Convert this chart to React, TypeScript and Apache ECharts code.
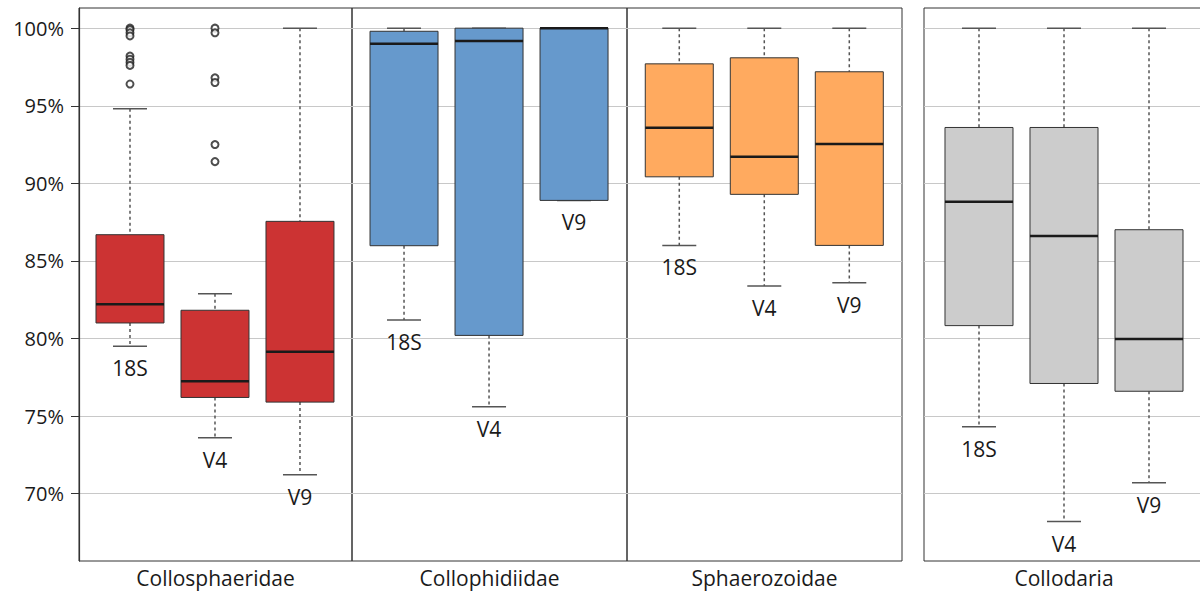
import React, { useEffect, useRef } from "react";
import * as echarts from "echarts";

// ---------- data ----------
const categories = ["Collosphaeridae", "Collophidiidae", "Sphaerozoidae", "Collodaria"];
const markers = ["18S", "V4", "V9"];
const yTicks = [70, 75, 80, 85, 90, 95, 100];

// each entry: [min, Q1, median, Q3, max] for 18S, V4, V9
const collosphaeridae = [
  [79.5, 81.0, 82.2, 86.69, 94.8],
  [73.6, 76.2, 77.24, 81.82, 82.89],
  [71.22, 75.9, 79.14, 87.55, 100],
];
const collophidiidae = [
  [81.2, 85.98, 99.0, 99.8, 100],
  [75.6, 80.2, 99.18, 100, 100],
  [88.9, 88.9, 100, 100, 100],
];
const sphaerozoidae = [
  [86.0, 90.42, 93.58, 97.7, 100],
  [83.39, 89.29, 91.71, 98.09, 100],
  [83.6, 86.0, 92.53, 97.19, 100],
];
const collodaria = [
  [74.31, 80.83, 88.82, 93.6, 100],
  [68.2, 77.1, 86.6, 93.6, 100],
  [70.7, 76.6, 79.97, 87.01, 100],
];

// outliers (Collosphaeridae only)
const outliers18S = [100, 99.9, 99.7, 99.5, 98.2, 98.0, 97.8, 97.6, 96.4];
const outliersV4 = [100, 99.7, 96.8, 96.5, 92.5, 91.4];

const panelData = [collosphaeridae, collophidiidae, sphaerozoidae, collodaria];
const panelColors = ["#CC3333", "#6699CC", "#FFAA5F", "#CCCCCC"];

// ---------- layout ----------
const FONT = "'Open Sans', 'DejaVu Sans', sans-serif";
const TOP = 8;
const HEIGHT = 553;
const grids = [
  { left: 79, width: 273, min: 0.4, max: 3.612 },
  { left: 352, width: 275, min: 0.388, max: 3.623 },
  { left: 627, width: 275, min: 0.385, max: 3.62 },
  { left: 924, width: 280, min: 0.353, max: 3.647 },
];

export default function App() {
  const ref = useRef<HTMLDivElement>(null);

  useEffect(() => {
    if (!ref.current) return;
    const chart = echarts.init(ref.current, null, { renderer: "svg" });

    const renderBox = (color: string) => (params: any, api: any) => {
      const x = api.value(0);
      const mn = api.value(1);
      const q1 = api.value(2);
      const md = api.value(3);
      const q3 = api.value(4);
      const mx = api.value(5);
      const pMin = api.coord([x, mn]);
      const pQ1 = api.coord([x, q1]);
      const pMd = api.coord([x, md]);
      const pQ3 = api.coord([x, q3]);
      const pMax = api.coord([x, mx]);
      const cx = pMin[0];
      const bw = api.size([1, 0])[0] * 0.8;
      const hw = bw / 2;
      const cap = bw / 4;
      const whisker = { stroke: "#555", lineWidth: 1.5, lineDash: [3, 3] };
      const capStyle = { stroke: "#555", lineWidth: 1.5 };
      const children: any[] = [];
      if (pMax[1] < pQ3[1]) {
        children.push({ type: "line", shape: { x1: cx, y1: pMax[1], x2: cx, y2: pQ3[1] }, style: whisker });
      }
      if (pMin[1] > pQ1[1]) {
        children.push({ type: "line", shape: { x1: cx, y1: pQ1[1], x2: cx, y2: pMin[1] }, style: whisker });
      }
      children.push({ type: "line", shape: { x1: cx - cap, y1: pMax[1], x2: cx + cap, y2: pMax[1] }, style: capStyle });
      children.push({ type: "line", shape: { x1: cx - cap, y1: pMin[1], x2: cx + cap, y2: pMin[1] }, style: capStyle });
      children.push({
        type: "rect",
        shape: { x: cx - hw, y: pQ3[1], width: bw, height: pQ1[1] - pQ3[1] },
        style: { fill: color, stroke: "#333", lineWidth: 1 },
      });
      children.push({
        type: "line",
        shape: { x1: cx - hw, y1: pMd[1], x2: cx + hw, y2: pMd[1] },
        style: { stroke: "#1a1a1a", lineWidth: 2.5 },
      });
      children.push({
        type: "text",
        x: cx,
        y: pMin[1] + 22,
        style: {
          text: markers[params.dataIndex],
          fill: "#1a1a1a",
          font: `21px ${FONT}`,
          align: "center",
          verticalAlign: "middle",
        },
      });
      return { type: "group", children };
    };

    const series: any[] = panelData.map((d, i) => ({
      type: "custom",
      xAxisIndex: i,
      yAxisIndex: i,
      clip: false,
      encode: { x: 0, y: [1, 2, 3, 4, 5] },
      data: d.map((v, j) => [j + 1, ...v]),
      renderItem: renderBox(panelColors[i]),
      z: 2,
    }));
    series.push({
      type: "scatter",
      xAxisIndex: 0,
      yAxisIndex: 0,
      symbol: "emptyCircle",
      symbolSize: 7,
      z: 3,
      itemStyle: { color: "#222", borderColor: "#222", borderWidth: 1.5 },
      data: [
        ...outliers18S.map((v) => [1, v]),
        ...outliersV4.map((v) => [2, v]),
      ],
    });

    chart.setOption({
      animation: false,
      textStyle: { fontFamily: FONT },
      grid: grids.map((g) => ({
        left: g.left,
        width: g.width,
        top: TOP,
        height: HEIGHT,
        show: true,
        borderColor: "#333",
        borderWidth: 1,
        backgroundColor: "transparent",
        containLabel: false,
        outerBoundsMode: "none",
      })),
      xAxis: grids.map((g, i) => ({
        type: "value",
        gridIndex: i,
        min: g.min,
        max: g.max,
        axisLine: { show: false },
        axisTick: { show: false },
        axisLabel: { show: false },
        splitLine: { show: false },
        name: categories[i],
        nameLocation: "middle",
        nameGap: 6,
        nameTextStyle: { fontSize: 21, color: "#1a1a1a", fontFamily: FONT },
      })),
      yAxis: grids.map((g, i) => ({
        type: "value",
        gridIndex: i,
        min: 65.66,
        max: 101.3,
        axisLine: { show: i === 0, lineStyle: { color: "#333", width: 1.2 } },
        axisTick: {
          show: i === 0,
          length: 8,
          customValues: yTicks,
          lineStyle: { color: "#333" },
        },
        axisLabel: {
          show: i === 0,
          customValues: yTicks,
          formatter: "{value}%",
          fontSize: 20,
          color: "#1a1a1a",
          margin: 15,
          fontFamily: FONT,
        },
        splitLine: { show: true, lineStyle: { color: "#C8C8C8", width: 1 } },
      })),
      series,
    });

    return () => chart.dispose();
  }, []);

  return (
    <div
      ref={ref}
      style={{ position: "fixed", left: 0, top: 0, width: 1200, height: 595, background: "#fff" }}
    />
  );
}
